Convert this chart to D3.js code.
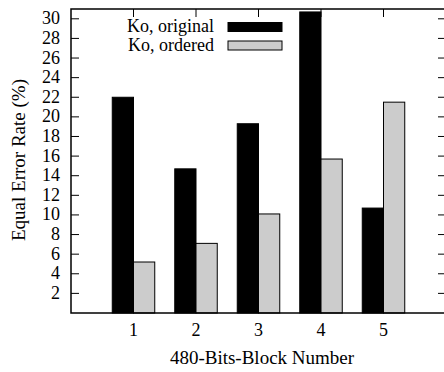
<!DOCTYPE html>
<html>
<head>
<meta charset="utf-8">
<script src="https://cdn.jsdelivr.net/npm/d3@7"></script>
<style>
  body { margin: 0; background: #fff; }
  text { font-family: "Liberation Serif", "DejaVu Serif", serif; fill: #000; }
</style>
</head>
<body>
<svg width="444" height="372"></svg>
<script>
// block numbers and the two series (EER %)
var blocks = [1, 2, 3, 4, 5];
var original = [22.0, 14.7, 19.3, 30.7, 10.7];
var ordered = [5.2, 7.1, 10.1, 15.7, 21.5];
var seriesNames = ["Ko, original", "Ko, ordered"];
var seriesColors = ["#000000", "#cccccc"];
var yTicks = d3.range(2, 31, 2);

var svg = d3.select("svg"),
    pLeft = 71, pRight = 446, pTop = 9, pBottom = 313;

var x = d3.scaleLinear().domain([0, 6]).range([pLeft, pRight]);
var y = d3.scaleLinear().domain([0, 31]).range([pBottom, pTop]);
var barW = 0.34;

var g = svg.append("g");

// bars
[original, ordered].forEach(function(vals, si) {
  g.selectAll(".bar" + si)
    .data(vals)
    .enter().append("rect")
    .attr("x", function(d, i) { return si == 0 ? x(blocks[i] - barW) : x(blocks[i]); })
    .attr("y", function(d) { return y(d); })
    .attr("width", x(barW) - x(0))
    .attr("height", function(d) { return y(0) - y(d); })
    .style("fill", seriesColors[si])
    .style("stroke", "#000")
    .style("stroke-width", 1);
});

// frame
g.append("rect")
  .attr("x", pLeft).attr("y", pTop)
  .attr("width", pRight - pLeft).attr("height", pBottom - pTop)
  .style("fill", "none").style("stroke", "#000").style("stroke-width", 1.5);

// y ticks (left + mirrored right)
yTicks.forEach(function(t) {
  g.append("line").attr("x1", pLeft).attr("x2", pLeft + 8)
    .attr("y1", y(t)).attr("y2", y(t)).style("stroke", "#000");
  g.append("line").attr("x1", pRight - 8).attr("x2", pRight)
    .attr("y1", y(t)).attr("y2", y(t)).style("stroke", "#000");
  g.append("text").attr("x", 60).attr("y", y(t) + 5.5)
    .attr("text-anchor", "end").attr("font-size", "18px").text(t);
});

// x ticks (top mirrored)
blocks.forEach(function(b) {
  g.append("line").attr("x1", x(b)).attr("x2", x(b))
    .attr("y1", pTop).attr("y2", pTop + 8).style("stroke", "#000");
  g.append("text").attr("x", x(b)).attr("y", 336)
    .attr("text-anchor", "middle").attr("font-size", "18px").text(b);
});

// axis titles
svg.append("text").attr("x", 262).attr("y", 364)
  .attr("text-anchor", "middle").attr("font-size", "19px")
  .text("480-Bits-Block Number");
svg.append("text")
  .attr("transform", "translate(25,160) rotate(-90)")
  .attr("text-anchor", "middle").attr("font-size", "19px")
  .text("Equal Error Rate (%)");

// legend
seriesNames.forEach(function(name, i) {
  var ly = 27 + i * 18.5;
  svg.append("text").attr("x", 214).attr("y", ly + 5)
    .attr("text-anchor", "end").attr("font-size", "18px").text(name);
  svg.append("rect").attr("x", 228).attr("y", ly - 4.5)
    .attr("width", 54).attr("height", 9)
    .style("fill", seriesColors[i]).style("stroke", "#000");
});
</script>
</body>
</html>
